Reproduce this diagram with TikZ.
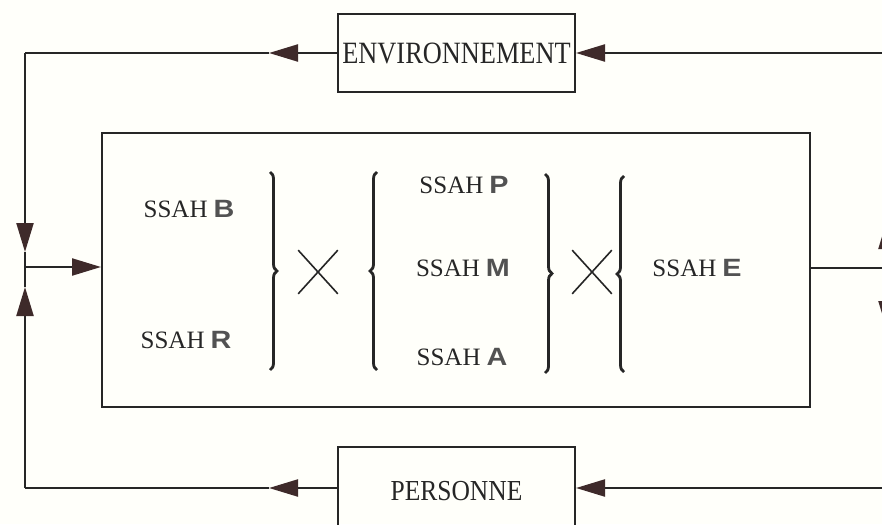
\documentclass[tikz,border=0pt]{standalone}
\usepackage{fontspec}
\usepackage{graphicx}
\usepackage{tikz}
\usetikzlibrary{arrows.meta,shapes.misc,decorations.pathreplacing}
\setmainfont{Liberation Serif}
\newfontfamily\lettrefont{Liberation Sans}
\newcommand{\ssahlbl}[1]{SSAH\hspace{6pt}{\lettrefont\bfseries\color{lettre}\scalebox{1.15}[1]{#1}}}
\colorlet{fond}{white!98!yellow}
\colorlet{trait}{black!85}
\definecolor{pointe}{RGB}{62,42,42}
\colorlet{texte}{black!85}
\colorlet{lettre}{black!68}
\tikzset{
    boite/.style={draw=trait,line width=2pt,inner sep=0pt,minimum width=237pt,minimum height=78pt,text=texte},
    lien/.style={draw=trait,line width=2.2pt},
    fleche/.style={lien,-{Triangle[length=29pt,width=17pt,color=pointe]}},
    accolade/.style={draw=trait,line width=2.8pt,decorate,decoration={brace,amplitude=7pt,aspect=0.5}},
    fois/.style={cross out,draw=trait,line width=1.6pt,minimum width=38pt,minimum height=42pt,inner sep=0pt},
    ssah/.style={text=texte,font=\fontsize{25}{27}\selectfont,inner sep=0pt},
}

\begin{document}
\begin{tikzpicture}[x=1pt,y=-1pt]
  \useasboundingbox (0,0) rectangle (882,524);
  \fill[fond] (0,0) rectangle (882,524);
  % Boxes
  \node[boite] (env) at (456.5,53) {\fontsize{31}{32}\selectfont\scalebox{0.85}[1]{ENVIRONNEMENT}};
  \node[boite,minimum height=96pt] (pers) at (456.5,495) {\fontsize{29}{30}\selectfont\raisebox{9pt}{\scalebox{0.88}[1]{PERSONNE}}};
  \node[draw=trait,line width=2pt,minimum width=708pt,minimum height=274pt,inner sep=0pt] (sys) at (456,270) {};
  % Corners and junctions of the loop
  \coordinate (tl) at (25,53);
  \coordinate (bl) at (25,488);
  \coordinate (lj) at (25,267);
  \coordinate (tr) at (887,53);
  \coordinate (br) at (887,488);
  \coordinate (rj) at (887,268);
  \coordinate (ldown) at (25,252);
  \coordinate (lup) at (25,287);
  \coordinate (rup) at (887,220);
  \coordinate (rdown) at (887,330);
  \coordinate (envtip) at (269,53);
  \coordinate (perstip) at (269,488);
  % Loop on the left
  \draw[fleche] (env.west) -- (envtip);
  \draw[lien] (envtip) -- (tl);
  \draw[fleche] (tl) -- (ldown);
  \draw[lien] (ldown) -- (lj);
  \draw[fleche] (bl) -- (lup);
  \draw[lien] (lup) -- (lj);
  \draw[lien] (perstip) -- (bl);
  \draw[fleche] (pers.west|-perstip) -- (perstip);
  \draw[fleche] (lj) -- (sys.west|-lj);
  % Loop on the right
  \draw[lien] (sys.east|-rj) -- (rj);
  \draw[fleche] (rj) -- (rup);
  \draw[lien] (rup) -- (tr);
  \draw[fleche] (tr) -- (env.east);
  \draw[fleche] (rj) -- (rdown);
  \draw[lien] (rdown) -- (br);
  \draw[fleche] (br) -- (pers.east|-br);
  % Contents of the system
  \node[ssah] (b) at (189,209) {\ssahlbl{B}};
  \node[ssah] (r) at (186,340) {\ssahlbl{R}};
  \node[ssah] (p) at (464,185) {\ssahlbl{P}};
  \node[ssah] (m) at (463,268) {\ssahlbl{M}};
  \node[ssah] (a) at (462,357) {\ssahlbl{A}};
  \node[ssah] (e) at (697,268) {\ssahlbl{E}};
  \node[fois] (x1) at (318,272) {};
  \node[fois] (x2) at (592,272) {};
  \coordinate (br1a) at (270,172);
  \coordinate (br1b) at (270,370);
  \coordinate (br2a) at (377,172);
  \coordinate (br2b) at (377,370);
  \coordinate (br3a) at (545,174);
  \coordinate (br3b) at (545,373);
  \coordinate (br4a) at (624,176);
  \coordinate (br4b) at (624,372);
  \draw[accolade] (br1a) -- (br1b);
  \draw[accolade] (br2b) -- (br2a);
  \draw[accolade] (br3a) -- (br3b);
  \draw[accolade] (br4b) -- (br4a);
\end{tikzpicture}
\end{document}
